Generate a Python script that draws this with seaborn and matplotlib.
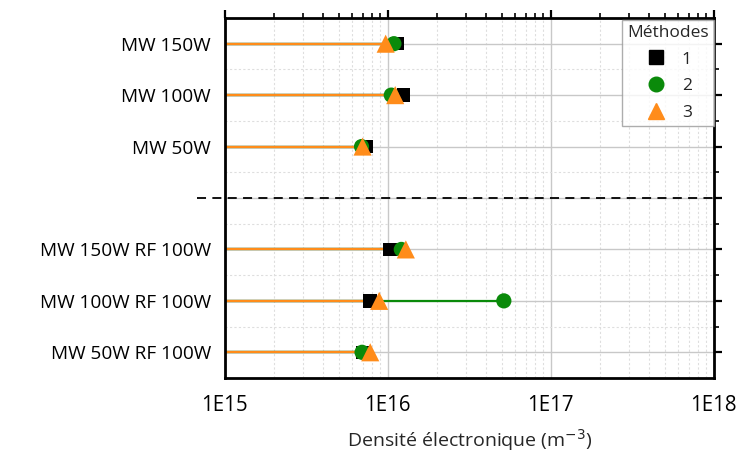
import numpy as np
import pandas as pd
import matplotlib
matplotlib.use("Agg")
import matplotlib.pyplot as plt
import matplotlib.ticker as mticker
from matplotlib.lines import Line2D
import seaborn as sns

# Data (electron density, m^-3)
conditions = ["MW 150W", "MW 100W", "MW 50W",
              "MW 150W RF 100W", "MW 100W RF 100W", "MW 50W RF 100W"]
rows = [0, 1, 2, 4, 5, 6]
methode_1 = [1.14e16, 1.25e16, 7.4e15, 1.03e16, 7.8e15, 7.0e15]
methode_2 = [1.09e16, 1.05e16, 6.9e15, 1.21e16, 5.15e16, 6.95e15]
methode_3 = [9.7e15, 1.11e16, 7.0e15, 1.29e16, 8.85e15, 7.8e15]

methodes = ["1", "2", "3"]
colors = {"1": "black", "2": "#0a8a0a", "3": "#ff8c1a"}
markers = {"1": "s", "2": "o", "3": "^"}
sizes = {"1": 95, "2": 120, "3": 170}

df = pd.DataFrame({
    "row": rows * 3,
    "densite": methode_1 + methode_2 + methode_3,
    "methode": ["1"] * 6 + ["2"] * 6 + ["3"] * 6,
})

sns.set_style("white")
plt.rcParams["font.family"] = ["Open Sans", "DejaVu Sans"]

fig = plt.figure(figsize=(7.42, 4.61), dpi=100)
ax = fig.add_axes([0.303, 0.18, 0.659, 0.781])
ax.set_xscale("log")

# lollipop lines from the left edge to each marker
for z, m in enumerate(methodes):
    sub = df[df["methode"] == m]
    ax.hlines(sub["row"], 1e15, sub["densite"], color=colors[m], lw=1.6, zorder=2 + z * 0.1)

for z, m in enumerate(methodes):
    sub = df[df["methode"] == m]
    sns.scatterplot(data=sub, x="densite", y="row", marker=markers[m], color=colors[m],
                    s=sizes[m], edgecolor="none", ax=ax, zorder=4 + z, legend=False)

ax.set_xlim(1e15, 1e18)
ax.set_ylim(6.5, -0.5)

# separator
ax.plot([-0.057, 1], [0.5, 0.5], transform=ax.transAxes, ls=(0, (5, 3.5)), color="black",
        lw=1.3, clip_on=False, zorder=6)

ax.xaxis.set_major_locator(mticker.LogLocator(base=10, numticks=10))
ax.xaxis.set_minor_locator(mticker.LogLocator(base=10, subs=np.arange(2, 10), numticks=20))
ax.xaxis.set_minor_formatter(mticker.NullFormatter())
ax.set_xticks([1e15, 1e16, 1e17, 1e18])
ax.set_xticklabels(["1E15", "1E16", "1E17", "1E18"])

ax.set_yticks([0, 1, 2, 3, 4, 5, 6])
ax.set_yticklabels(conditions[:3] + [""] + conditions[3:])
ax.yaxis.set_minor_locator(mticker.FixedLocator([0.5, 1.5, 2.5, 3.5, 4.5, 5.5]))

ax.grid(which="major", color="#c8c8c8", lw=1.0, zorder=0)
ax.grid(which="minor", color="#dedede", lw=0.8, ls=(0, (2, 2)), zorder=0)
ax.set_axisbelow(True)

for s in ax.spines.values():
    s.set_visible(True)
    s.set_color("black")
    s.set_linewidth(2)

ax.tick_params(which="major", direction="out", length=6, width=1.6, top=True, right=True,
               colors="black", pad=4)
ax.tick_params(which="minor", direction="out", length=3.5, width=1.4, top=True, right=True)
ax.tick_params(axis="y", which="major", labelsize=13.7)
ax.tick_params(axis="x", which="major", labelsize=14.8, pad=6)

ax.set_xlabel("Densité électronique (m$^{-3}$)", fontsize=14, labelpad=8)
ax.set_ylabel("")

handles = [Line2D([], [], ls="none", marker=markers[m], color=colors[m],
                  markersize={"1": 9.5, "2": 10.5, "3": 12}[m]) for m in methodes]
leg = ax.legend(handles, methodes, title="Méthodes", loc="upper right",
                bbox_to_anchor=(1.0, 0.995), frameon=True, fancybox=False,
                fontsize=12.5, title_fontsize=12.5, handletextpad=0.8, borderpad=0.3,
                labelspacing=0.6, handlelength=1.4, borderaxespad=0.0)
leg.get_frame().set_edgecolor("#999999")
leg.get_frame().set_linewidth(1)
leg.set_zorder(10)

fig.savefig("out.png", dpi=100)
